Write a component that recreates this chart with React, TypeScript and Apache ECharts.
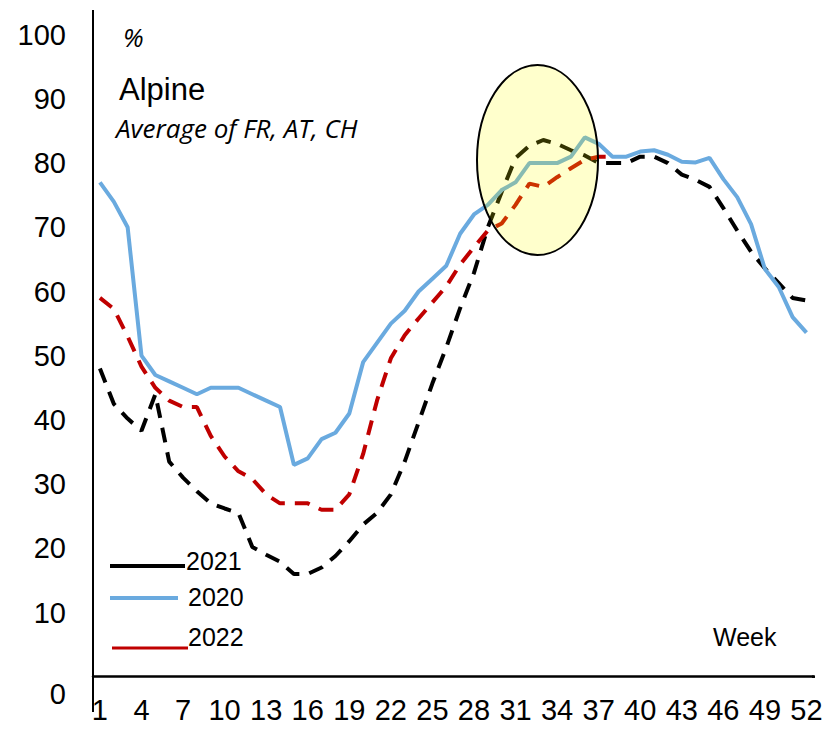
import React, { useEffect, useRef } from "react";
import * as echarts from "echarts";

const weeks = [
  "1","2","3","4","5","6","7","8","9","10","11","12","13","14","15","16","17","18","19","20",
  "21","22","23","24","25","26","27","28","29","30","31","32","33","34","35","36","37","38","39","40",
  "41","42","43","44","45","46","47","48","49","50","51","52",
];

const values2021 = [
  48, 42.5, 40.2, 38.3, 44, 33.5, 31, 28.9, 27, 26.2,
  25.5, 20.2, 19, 17.9, 16, 16, 17, 18.8, 21.1, 23.7,
  25.5, 28.4, 33.5, 39.6, 45.7, 51.3, 57.4, 62.9, 70, 75.5,
  80.8, 82.7, 83.6, 83, 82, 81.2, 80, 80, 80, 81,
  81, 80, 78.2, 77.4, 76.3, 73, 69.5, 66.2, 63.6, 61.3,
  59, 58.6,
];

const values2020 = [
  77, 74, 70, 50, 47, 46, 45, 44, 45, 45,
  45, 44, 43, 42, 33, 34, 37, 38, 41, 49,
  52, 55, 57, 60, 62, 64, 69, 72, 73.5, 75.8,
  77, 80, 80, 80, 81, 84, 83, 81, 81, 81.8,
  82, 81.3, 80.2, 80.1, 80.8, 77.5, 74.7, 70.5, 63.5, 60.7,
  56, 53.6,
];

const values2022 = [
  59, 57.3, 53, 48.3, 45, 43, 42, 42, 37.5, 34.3,
  32, 30.8, 28.4, 27, 27, 27, 26, 26, 28.4, 34.7,
  43, 49.6, 53.2, 55.8, 58.3, 60.8, 64.2, 66.9, 69.5, 70.6,
  73.5, 76.8, 76.3, 77.8, 79.2, 80.5, 81, 81, null, null,
  null, null, null, null, null, null, null, null, null, null,
  null, null,
];

const yTicks = { min: 0, max: 100, interval: 10 };

const legendItems = [
  { name: "2021", color: "#000000", x1: 110, x2: 185, ly: 566, lw: 4, tx: 186, ty: 561 },
  { name: "2020", color: "#6AAADF", x1: 110, x2: 178, ly: 598, lw: 4, tx: 188, ty: 597 },
  { name: "2022", color: "#C00000", x1: 112, x2: 188, ly: 648, lw: 3, tx: 188, ty: 637 },
];

export default function App() {
  const ref = useRef<HTMLDivElement>(null);

  useEffect(() => {
    if (!ref.current) return;
    const chart = echarts.init(ref.current, undefined, { renderer: "svg" });
    const font = "'Liberation Sans', Arial, sans-serif";

    const legendGraphics: any[] = [];
    legendItems.forEach((it) => {
      legendGraphics.push({
        type: "line",
        shape: { x1: it.x1, y1: it.ly, x2: it.x2, y2: it.ly },
        style: { stroke: it.color, lineWidth: it.lw },
        z: 50,
      });
      legendGraphics.push({
        type: "text",
        x: it.tx,
        y: it.ty,
        style: {
          text: it.name,
          fill: "#000",
          font: `25px ${font}`,
          textVerticalAlign: "middle",
          verticalAlign: "middle",
        },
        z: 50,
      });
    });

    chart.setOption({
      animation: false,
      backgroundColor: "#ffffff",
      grid: { left: 93, right: 17.6, top: 34.7, bottom: 53.3, containLabel: false },
      xAxis: {
        type: "category",
        data: weeks,
        boundaryGap: true,
        axisLine: { show: true, lineStyle: { color: "#000", width: 2.5 } },
        axisTick: { show: false },
        axisLabel: {
          interval: 2,
          color: "#000",
          fontFamily: "Liberation Sans",
          fontSize: 29,
          margin: 19,
        },
        splitLine: { show: false },
      },
      yAxis: {
        type: "value",
        min: yTicks.min,
        max: yTicks.max,
        interval: yTicks.interval,
        axisLine: { show: true, lineStyle: { color: "#000", width: 2 } },
        axisTick: { show: false },
        splitLine: { show: false },
        axisLabel: {
          color: "#000",
          fontFamily: "Liberation Sans",
          fontSize: 29,
          margin: 27,
          formatter: (v: number) => (v === 0 ? "" : String(v)),
        },
      },
      series: [
        {
          name: "2021",
          type: "line",
          data: values2021,
          showSymbol: false,
          symbol: "none",
          lineStyle: { color: "#000000", width: 4, type: [15, 10] },
          z: 3,
        },
        {
          name: "2020",
          type: "line",
          data: values2020,
          showSymbol: false,
          symbol: "none",
          lineStyle: { color: "#6AAADF", width: 4, type: "solid" },
          z: 4,
        },
        {
          name: "2022",
          type: "line",
          data: values2022,
          showSymbol: false,
          symbol: "none",
          connectNulls: false,
          lineStyle: { color: "#C00000", width: 4, type: [15, 10] },
          z: 5,
        },
      ],
      graphic: [
        {
          type: "line",
          shape: { x1: 93, y1: 10, x2: 93, y2: 36 },
          style: { stroke: "#000", lineWidth: 2 },
          z: 50,
        },
        {
          type: "line",
          shape: { x1: 93, y1: 676, x2: 93, y2: 712 },
          style: { stroke: "#000", lineWidth: 2 },
          z: 50,
        },
        {
          type: "line",
          shape: { x1: 812, y1: 676.7, x2: 815, y2: 676.7 },
          style: { stroke: "#000", lineWidth: 2.5 },
          z: 50,
        },
        {
          type: "text",
          x: 66,
          y: 694,
          style: {
            text: "0",
            fill: "#000",
            font: `29px ${font}`,
            textAlign: "right",
            align: "right",
            textVerticalAlign: "middle",
            verticalAlign: "middle",
          },
          z: 50,
        },
        {
          type: "text",
          x: 123,
          y: 37,
          style: {
            text: "%",
            fill: "#000",
            font: `italic 26px 'Open Sans', sans-serif`,
            textVerticalAlign: "middle",
            verticalAlign: "middle",
          },
          z: 50,
        },
        {
          type: "text",
          x: 119,
          y: 89,
          style: {
            text: "Alpine",
            fill: "#000",
            font: `31px ${font}`,
            textVerticalAlign: "middle",
            verticalAlign: "middle",
          },
          z: 50,
        },
        {
          type: "text",
          x: 116,
          y: 128,
          style: {
            text: "Average of FR, AT, CH",
            fill: "#000",
            font: `italic 26px 'Open Sans', sans-serif`,
            textVerticalAlign: "middle",
            verticalAlign: "middle",
          },
          z: 50,
        },
        {
          type: "text",
          x: 713,
          y: 637,
          style: {
            text: "Week",
            fill: "#000",
            font: `25px ${font}`,
            textVerticalAlign: "middle",
            verticalAlign: "middle",
          },
          z: 50,
        },
        ...legendGraphics,
        {
          type: "ellipse",
          shape: { cx: 537.5, cy: 160, rx: 60.5, ry: 95 },
          style: { fill: "rgba(255,255,0,0.2)", stroke: "#000", lineWidth: 2 },
          z: 100,
        },
      ],
    });

    return () => {
      chart.dispose();
    };
  }, []);

  return (
    <div
      ref={ref}
      style={{ position: "fixed", left: 0, top: 0, width: 831, height: 730, background: "#fff" }}
    />
  );
}
